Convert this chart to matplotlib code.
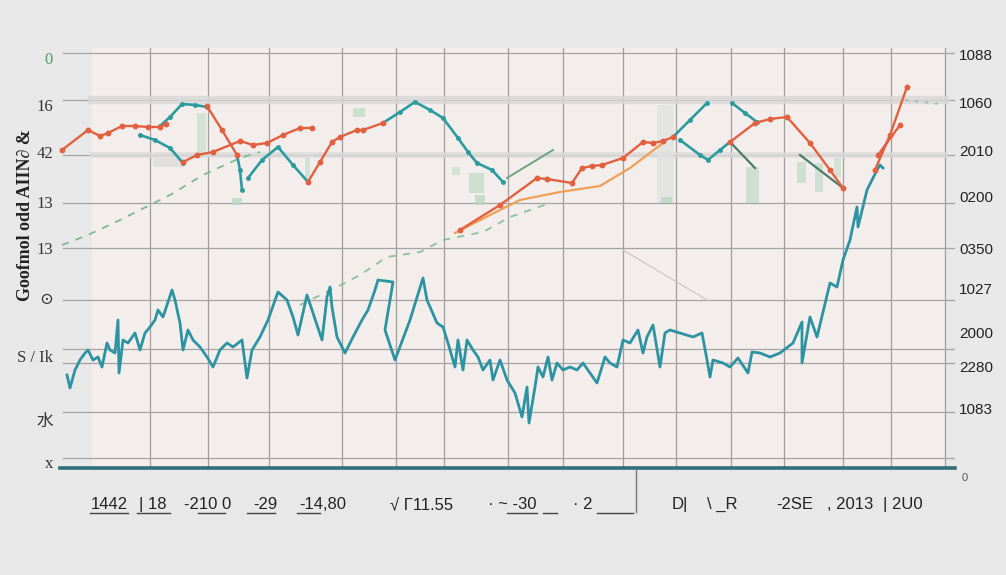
import matplotlib
matplotlib.use("Agg")
import numpy as np
import matplotlib.pyplot as plt
from matplotlib.lines import Line2D

plt.rcParams["font.family"] = ["Liberation Sans", "DejaVu Sans", "Noto Sans CJK JP"]

# ---- data (x = sample position, y = value) ----
# noisy teal series along the bottom
noisy_x = [7, 10, 15, 20, 25, 28, 33, 38, 42, 47, 50, 55, 58, 59, 63, 68, 75, 80, 85, 90,
           95, 98, 103, 112, 115, 120, 123, 128, 133, 140, 147, 153, 160, 167, 173, 182, 187, 192, 200, 208,
           218, 227, 233, 238, 247, 253, 262, 267, 270, 272, 277, 285, 293, 302, 308, 315, 318, 333, 325, 335,
           350, 363, 367, 377, 383, 388, 395, 398, 403, 407, 413, 418, 423, 430, 433, 440, 447, 455, 462, 467,
           469, 475, 478, 483, 488, 492, 497, 503, 510, 517, 523, 530, 537, 545, 550, 557, 563, 570, 578, 583,
           587, 593, 600, 605, 610, 620, 633, 642, 647, 650, 653, 663, 670, 678, 688, 692, 700, 710, 720, 733,
           742, 742, 750, 757, 770, 777, 783, 790, 797, 798, 807, 817, 820, 823]
noisy_y = [93, 80, 98, 108, 115, 118, 108, 111, 101, 125, 118, 115, 148, 95, 128, 125, 135, 118, 135, 141,
           148, 158, 151, 178, 168, 145, 118, 138, 128, 121, 111, 101, 118, 125, 121, 128, 90, 118, 131, 148,
           176, 168, 151, 133, 173, 155, 128, 171, 181, 161, 131, 115, 131, 148, 158, 178, 188, 186, 138, 108,
           148, 190, 168, 145, 141, 125, 101, 128, 98, 128, 118, 111, 98, 108, 88, 108, 88, 75, 51, 81,
           45, 81, 101, 91, 111, 88, 105, 98, 101, 98, 105, 95, 85, 111, 105, 101, 128, 125, 138, 115,
           131, 143, 101, 135, 138, 135, 131, 135, 108, 91, 108, 105, 101, 110, 95, 116, 115, 111, 115, 125,
           146, 105, 151, 131, 185, 181, 208, 228, 261, 241, 278, 298, 303, 300]

# red-orange marker line (NaN = break)
red_x = [2, 28, 40, 48, 62, 75, 88, 100, 106, np.nan,
         147, 162, 177, np.nan,
         123, 137, 153, 180, 193, 207, 223, 240, 252, np.nan,
         248, 260, 272, 280, 297, 303, 323, np.nan,
         400, 440, 477, 487, 512, 522, 532, 542, 563, 583, 593, 603, 613, np.nan,
         670, 695, 710, 727, 750, 770, 783, np.nan,
         815, 830, 847, np.nan,
         818, 840]
red_y = [318, 338, 332, 335, 342, 342, 341, 341, 344, np.nan,
         362, 338, 313, np.nan,
         306, 313, 316, 327, 323, 325, 333, 340, 340, np.nan,
         286, 306, 326, 331, 338, 338, 345, np.nan,
         238, 263, 290, 289, 285, 300, 302, 303, 310, 326, 325, 327, 331, np.nan,
         326, 345, 349, 351, 325, 298, 280, np.nan,
         298, 333, 381, np.nan,
         313, 343]

# light orange line
orange_x = [395, 430, 460, 500, 540, 570, 603]
orange_y = [235, 253, 268, 276, 282, 300, 325]

# upper teal line
teal_x = [100, 110, 122, 135, 147, np.nan, 177, 180, 182, np.nan,
          80, 95, 110, 123, np.nan,
          188, 202, 218, 233, 248, np.nan,
          323, 340, 355, 370, 383, 398, 408, 417, 432, 443, np.nan,
          613, 630, 647, np.nan,
          620, 640, 648, 660, 670, np.nan,
          672, 685, 697]
teal_y = [342, 351, 364, 363, 361, np.nan, 313, 298, 278, np.nan,
          333, 328, 320, 305, np.nan,
          290, 308, 321, 303, 286, np.nan,
          345, 356, 366, 358, 350, 330, 316, 305, 298, 286, np.nan,
          331, 348, 365, np.nan,
          328, 313, 308, 318, 326, np.nan,
          365, 355, 346]

# dark green short strokes
dgreen_x = [670, 695, np.nan, 740, 783]
dgreen_y = [326, 300, np.nan, 313, 280]
green_x = [447, 493]
green_y = [290, 318]

# green dashed trend lines
dash1_x = [2, 28, 60, 90, 110, 143, 180, 200]
dash1_y = [223, 233, 248, 263, 273, 293, 310, 316]
dash2_x = [240, 277, 300, 327, 360, 383, 423, 450, 490]
dash2_y = [163, 181, 193, 211, 216, 228, 236, 251, 265]
dash3_x = [845, 880]
dash3_y = [368, 364]

# faint gray stroke
faint_x = [563, 647]
faint_y = [218, 168]

# pale candle-like blocks
bar_x = [142, 299, 247, 177, 396, 417, 420, 606, 607, 693, 742, 759, 778, 108]
bar_lo = [311, 351, 288, 263, 293, 275, 263, 265, 265, 265, 285, 276, 291, 301]
bar_hi = [355, 360, 310, 270, 301, 295, 273, 363, 271, 301, 306, 305, 310, 310]
bar_w = [9, 12, 5, 10, 8, 15, 10, 17, 11, 13, 9, 8, 7, 30]
bar_col = ["#c9dfd0", "#bfdcc8", "#c9dfd0", "#b6d8c0", "#c9dfd0", "#c4dccb", "#b6d8c0",
           "#dfe2df", "#b6d8c0", "#c4dccb", "#c4dccb", "#c4dccb", "#c9dfd0", "#dcdcdc"]

# grid positions
vgrid = [90, 148, 209, 282, 336, 384, 448, 503, 563, 616, 671, 724, 783, 831, 885]
hgrid = [415, 368, 313, 265, 220, 168, 119, 105, 56, 10]

left_pos = [410, 363, 316, 266, 220, 170, 112, 48, 6]
left_labels = ["0", "16", "42", "13", "13", "\u2299", "S / Ik", "\u6c34", "x"]
right_pos = [413, 366, 318, 271, 220, 180, 135, 102, 60]
right_labels = ["1088", "1060", "2010", "0200", "0350", "1027", "2000", "2280", "1083"]
bottom_pos = [49, 93, 148, 205, 263, 362, 452, 523, 620, 662, 735, 790, 843]
bottom_labels = ["1442", "| 18", "-210 0", "-29", "-14,80", "\u221a \u039311.55", "\u00b7 ~ -30",
                 "\u00b7 2", "D|", "\\ _R", "-2SE", ", 2013", "| 2U0"]

# ---- figure ----
W, H = 1006, 575
fig = plt.figure(figsize=(W / 100, H / 100), dpi=100, facecolor="#e9e8e8")
ax = fig.add_axes([60 / W, 107 / H, 895 / W, 420 / H])
ax.set_facecolor("#e9e8e8")
ax.set_xlim(0, 895)
ax.set_ylim(0, 420)
for s in ax.spines.values():
    s.set_visible(False)

ax.axvspan(32, 885, color="#f3eeeb", zorder=0)

for gx in vgrid:
    ax.axvline(gx, color="#9e9e9e", lw=0.9, zorder=1)
for gy in hgrid:
    ax.axhline(gy, xmin=0.003, color="#a4a4a4", lw=0.9, zorder=1)
ax.axhline(368, xmin=32 / 895, xmax=885 / 895, color="#d8d8d8", lw=6, alpha=0.8, zorder=1)
ax.axhline(313, xmin=32 / 895, xmax=885 / 895, color="#dadada", lw=4, alpha=0.8, zorder=1)

ax.bar(bar_x, np.array(bar_hi) - np.array(bar_lo), bottom=bar_lo, width=bar_w,
       color=bar_col, alpha=0.75, zorder=2)

ax.plot(faint_x, faint_y, color="#c6c6c6", lw=0.8, zorder=2)
ax.plot(dash1_x, dash1_y, color="#7db894", lw=1.3, ls=(0, (4, 4)), zorder=3, clip_on=False)
ax.plot(dash2_x, dash2_y, color="#8cc0a0", lw=1.3, ls=(0, (4, 4)), zorder=3)
ax.plot(dash3_x, dash3_y, color="#8fbfa6", lw=1.2, ls=(0, (2, 4)), zorder=3)
ax.plot(green_x, green_y, color="#6aa57f", lw=1.4, zorder=3)
ax.plot(orange_x, orange_y, color="#f0a055", lw=1.6, zorder=3)
ax.plot(dgreen_x, dgreen_y, color="#4a7c6c", lw=1.6, zorder=3)

ax.plot(noisy_x, noisy_y, color="#2c93a2", lw=2.0, zorder=4, clip_on=False)
ax.plot(teal_x, teal_y, color="#2b9ba0", lw=1.9, marker="o", ms=2.5, zorder=4)
ax.plot(red_x, red_y, color="#e2603f", lw=1.7, marker="o", ms=3.2, zorder=5, clip_on=False)

# baseline
ax.axhline(0, color="#2f6e7b", lw=2.6, zorder=6, clip_on=False)

# ticks
ax.set_yticks(left_pos, left_labels)
ax.tick_params(axis="y", length=0, pad=5, labelsize=12, labelcolor="#333333")
for lab in ax.get_yticklabels():
    lab.set_fontfamily(["Liberation Serif", "DejaVu Serif", "Noto Sans CJK JP"])
ax.get_yticklabels()[0].set_color("#4f9a63")

ax.set_xticks(bottom_pos, bottom_labels)
ax.tick_params(axis="x", length=0, pad=21, labelsize=12, labelcolor="#222222")

ax2 = ax.twinx()
ax2.set_ylim(0, 420)
for s in ax2.spines.values():
    s.set_visible(False)
ax2.set_yticks(right_pos, right_labels)
ax2.tick_params(axis="y", length=0, pad=3, labelsize=11, labelcolor="#222222")
ax2.text(905, -10, "0", fontsize=8, color="#555555", ha="center", va="center", clip_on=False)

ax.set_ylabel("Goofmol odd AIIN\u2202 &", fontsize=13, fontweight="bold",
              family="Liberation Serif", color="#222222")
ax.yaxis.set_label_coords(-26 / 895, 253 / 420)

# hand-drawn underlines below some bottom labels
underlines = [(90, 128), (137, 170), (198, 225), (247, 275), (297, 320), (507, 537),
              (543, 557), (597, 633)]
for x0, x1 in underlines:
    fig.add_artist(Line2D([x0 / W, x1 / W], [1 - 513 / H] * 2, color="#444444", lw=1))
fig.add_artist(Line2D([636 / W, 636 / W], [1 - 470 / H, 1 - 512 / H], color="#777777", lw=1))

fig.savefig("out.png", dpi=100, facecolor=fig.get_facecolor())
